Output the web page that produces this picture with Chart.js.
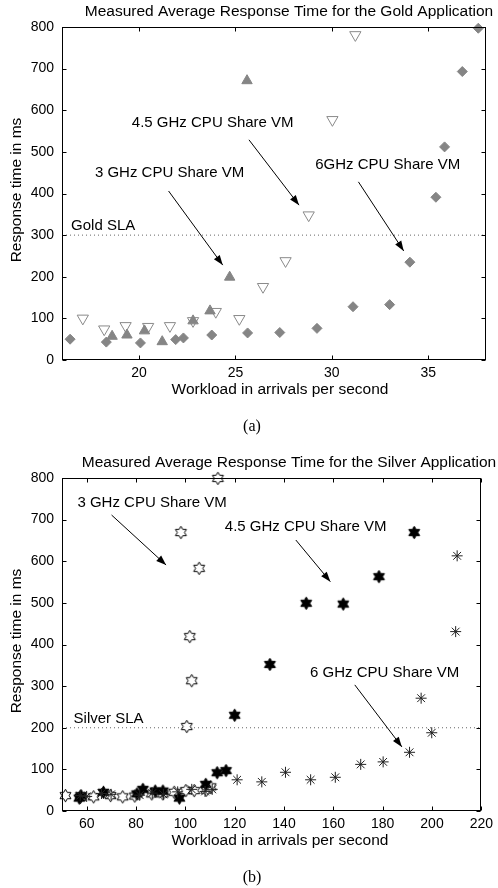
<!DOCTYPE html>
<html>
<head>
<meta charset="utf-8">
<script src="https://cdn.jsdelivr.net/npm/chart.js@4"></script>
<style>
  body { margin: 0; background: #fff; }
  canvas { position: absolute; left: 0; }
  #gold { top: 0; }
  #silver { top: 451px; }
</style>
</head>
<body>
<canvas id="gold" width="498" height="437"></canvas>
<canvas id="silver" width="498" height="437"></canvas>
<script>
// --- Gold application (a) ---
const gold3GhzX = [18.6, 19.37, 20.28, 21.2, 22.8, 23.68, 24.7, 25.6];
const gold3GhzY = [57, 60, 70, 44, 94, 118, 199, 671];
const gold45GhzX = [17.08, 18.19, 19.3, 20.47, 21.6, 22.8, 23.98, 25.2, 26.43, 27.6, 28.8, 30.03, 31.22];
const gold45GhzY = [100, 74, 82, 80, 82, 94, 116, 99, 176, 238, 348, 577, 781];
const gold6GhzX = [16.42, 18.3, 20.07, 21.9, 22.3, 23.77, 25.63, 27.3, 29.23, 31.1, 33.0, 34.05, 35.4, 35.85, 36.77, 37.6];
const gold6GhzY = [50, 43, 41, 49, 53, 60, 65, 66, 76, 128, 133, 235, 391, 512, 693, 797];
const goldSla = 300;
const goldXTicks = [20, 25, 30, 35];

// --- Silver application (b) ---
const silver3GhzX = [51.4, 57.5, 62.8, 69.7, 74.6, 79.5, 86.4, 90.9, 95.5, 100.2, 103.6, 108.5, 110.3, 100.6, 102.6, 101.8, 105.6, 98.2, 113.2];
const silver3GhzY = [37, 33, 34, 37, 34, 36, 41, 41, 45, 49, 49, 50, 58, 203, 313, 419, 583, 669, 799];
const silver45GhzX = [57, 57.7, 66.8, 80.4, 82.8, 87.8, 90.9, 97.6, 108.3, 112.9, 116.5, 120, 134.3, 149, 164, 178.5, 192.8];
const silver45GhzY = [31, 37, 45, 41, 52, 48, 48, 31, 64, 92, 97, 230, 352, 499, 497, 563, 669];
const silver6GhzX = [57.4, 60, 66, 69.9, 81.5, 86.6, 91.1, 96.9, 102.6, 108, 110.9, 121, 131, 140.6, 150.8, 160.8, 171.1, 180.2, 190.9, 195.6, 199.9, 209.6, 210.2];
const silver6GhzY = [37, 35, 42, 40, 38, 43, 40, 46, 52, 47, 52, 75, 70, 93, 75, 81, 112, 118, 141, 271, 188, 431, 613];
const silverSla = 200;
const silverXTicks = [60, 80, 100, 120, 140, 160, 180, 200, 220];

const yTicks = [0, 100, 200, 300, 400, 500, 600, 700, 800];

const FONT = '"Liberation Sans", Arial, sans-serif';

function pairs(xs, ys) {
  return xs.map((x, i) => ({ x: x, y: ys[i] }));
}

// hexagram marker drawn on a small canvas, used as a point style
function hexagram(filled) {
  const c = document.createElement("canvas");
  c.width = c.height = 15;
  const g = c.getContext("2d");
  const R = 6.3, r = R / Math.sqrt(3);
  g.beginPath();
  for (let i = 0; i < 12; i++) {
    const rad = i % 2 ? r : R;
    const ang = -Math.PI / 2 + (i * Math.PI) / 6;
    const px = 7.5 + rad * Math.cos(ang), py = 7.5 + rad * Math.sin(ang);
    if (i) g.lineTo(px, py); else g.moveTo(px, py);
  }
  g.closePath();
  g.fillStyle = filled ? "#000" : "#fff";
  g.fill();
  g.strokeStyle = "#000";
  g.lineWidth = 1;
  g.stroke();
  return c;
}

function arrow(ctx, x1, y1, x2, y2) {
  ctx.beginPath();
  ctx.moveTo(x1, y1);
  ctx.lineTo(x2, y2);
  ctx.stroke();
  const a = Math.atan2(y2 - y1, x2 - x1);
  const len = 10, w = 3.6;
  ctx.beginPath();
  ctx.moveTo(x2, y2);
  ctx.lineTo(x2 - len * Math.cos(a) + w * Math.sin(a), y2 - len * Math.sin(a) - w * Math.cos(a));
  ctx.lineTo(x2 - len * Math.cos(a) - w * Math.sin(a), y2 - len * Math.sin(a) + w * Math.cos(a));
  ctx.closePath();
  ctx.fill();
}

// box, inward ticks, titles, annotations
const decor = {
  id: "decor",
  afterDraw(chart, args, o) {
    const { ctx, chartArea: a, scales } = chart;
    const x = scales.x, y = scales.y;
    ctx.save();
    ctx.strokeStyle = "#000";
    ctx.fillStyle = "#000";
    ctx.lineWidth = 1;
    const L = Math.round(a.left) + 0.5, R = Math.round(a.right) - 0.5;
    const T = Math.round(a.top) + 0.5, B = Math.round(a.bottom) - 0.5;
    ctx.strokeRect(L, T, R - L, B - T);
    ctx.beginPath();
    x.ticks.forEach(t => {
      const px = Math.round(x.getPixelForValue(t.value)) + 0.5;
      ctx.moveTo(px, B); ctx.lineTo(px, B - 4);
      ctx.moveTo(px, T); ctx.lineTo(px, T + 4);
    });
    y.ticks.forEach(t => {
      const py = Math.round(y.getPixelForValue(t.value)) + 0.5;
      ctx.moveTo(L, py); ctx.lineTo(L + 4, py);
      ctx.moveTo(R, py); ctx.lineTo(R - 4, py);
    });
    ctx.stroke();

    ctx.font = "15.5px " + FONT;
    ctx.textAlign = "center";
    ctx.textBaseline = "middle";
    ctx.fillText(o.title, 289, 12);
    ctx.fillText("Workload in arrivals per second", 280, 390);
    ctx.save();
    ctx.translate(17, 190);
    ctx.rotate(-Math.PI / 2);
    ctx.fillText("Response time in ms", 0, 0);
    ctx.restore();

    ctx.font = "15px " + FONT;
    o.notes.forEach(n => {
      ctx.textAlign = n.align || "center";
      ctx.fillText(n.text, x.getPixelForValue(n.x), y.getPixelForValue(n.y));
      if (n.from) {
        arrow(ctx, x.getPixelForValue(n.from[0]), y.getPixelForValue(n.from[1]),
          x.getPixelForValue(n.to[0]), y.getPixelForValue(n.to[1]));
      }
    });

    ctx.font = '16px "Liberation Serif", serif';
    ctx.textAlign = "center";
    ctx.fillText(o.caption, 252, 427);
    ctx.restore();
  }
};

function makeChart(id, xMin, xMax, xTicks, sla, datasets, decorOpts) {
  datasets.push({
    data: [{ x: xMin, y: sla }, { x: xMax, y: sla }],
    showLine: true,
    borderColor: "#666",
    borderWidth: 1,
    borderDash: [1, 3],
    pointRadius: 0,
    order: 10
  });
  return new Chart(document.getElementById(id), {
    type: "scatter",
    data: { datasets: datasets },
    options: {
      responsive: false,
      animation: false,
      events: [],
      layout: { padding: { top: 27, right: 12, left: 0, bottom: 0 } },
      plugins: { legend: { display: false }, tooltip: { enabled: false }, decor: decorOpts },
      scales: {
        x: {
          type: "linear", min: xMin, max: xMax,
          grid: { display: false, drawTicks: false },
          border: { display: false },
          afterBuildTicks: s => { s.ticks = xTicks.map(v => ({ value: v })); },
          afterFit: s => { s.height = 77; },
          ticks: { color: "#000", padding: 5, font: { family: FONT, size: 14 } }
        },
        y: {
          type: "linear", min: 0, max: 800,
          grid: { display: false, drawTicks: false },
          border: { display: false },
          afterBuildTicks: s => { s.ticks = yTicks.map(v => ({ value: v })); },
          afterFit: s => { s.width = 62; },
          ticks: { color: "#000", padding: 8, font: { family: FONT, size: 14 } }
        }
      }
    },
    plugins: [decor]
  });
}

const GRAY = "#858585";

makeChart("gold", 16, 38, goldXTicks, goldSla, [
  { data: pairs(gold6GhzX, gold6GhzY), pointStyle: "rectRot", pointRadius: 5,
    backgroundColor: GRAY, borderColor: GRAY, borderWidth: 1, clip: false },
  { data: pairs(gold3GhzX, gold3GhzY), pointStyle: "triangle", pointRadius: 6,
    backgroundColor: GRAY, borderColor: GRAY, borderWidth: 1, clip: false },
  { data: pairs(gold45GhzX, gold45GhzY), pointStyle: "triangle", rotation: 180, pointRadius: 6.5,
    backgroundColor: "rgba(255,255,255,0)", borderColor: "#8a8a8a", borderWidth: 1, clip: false }
], {
  title: "Measured Average Response Time for the Gold Application",
  caption: "(a)",
  notes: [
    { text: "3 GHz CPU Share VM", x: 21.58, y: 449, from: [21.53, 406], to: [24.34, 228] },
    { text: "4.5 GHz CPU Share VM", x: 23.82, y: 569, from: [25.7, 529], to: [28.3, 372] },
    { text: "6GHz CPU Share VM", x: 32.9, y: 468, from: [31.38, 428], to: [33.73, 262] },
    { text: "Gold SLA", x: 16.47, y: 322, align: "left" }
  ]
});

makeChart("silver", 50, 220, silverXTicks, silverSla, [
  { data: pairs(silver6GhzX, silver6GhzY), pointStyle: "star", pointRadius: 5.5,
    borderColor: "#222", borderWidth: 1, clip: false },
  { data: pairs(silver45GhzX, silver45GhzY), pointStyle: hexagram(true), clip: false },
  { data: pairs(silver3GhzX, silver3GhzY), pointStyle: hexagram(false), clip: false }
], {
  title: "Measured Average Response Time for the Silver Application",
  caption: "(b)",
  notes: [
    { text: "3 GHz CPU Share VM", x: 86.5, y: 740, from: [70.1, 711], to: [92.2, 591] },
    { text: "4.5 GHz CPU Share VM", x: 148.8, y: 683, from: [144.8, 651], to: [158.8, 551] },
    { text: "6 GHz CPU Share VM", x: 180.8, y: 332, from: [168.7, 303], to: [187.8, 154] },
    { text: "Silver SLA", x: 54.7, y: 221, align: "left" }
  ]
});
</script>
</body>
</html>
